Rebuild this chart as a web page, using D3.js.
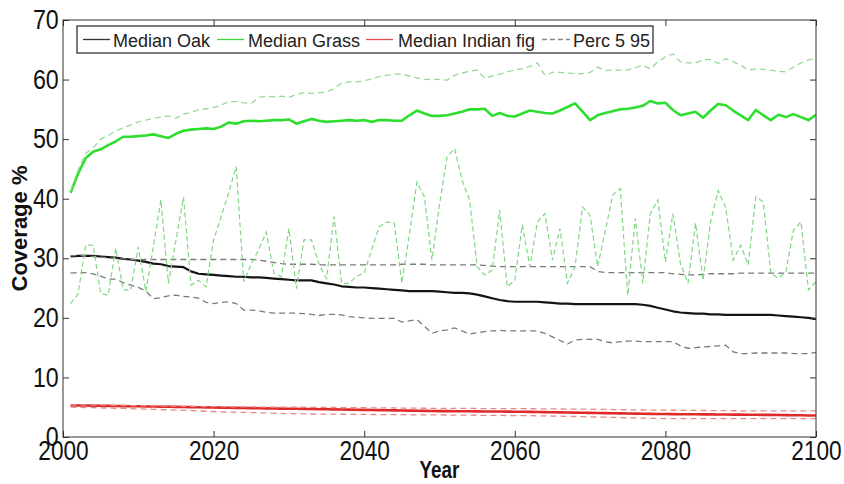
<!DOCTYPE html>
<html>
<head>
<meta charset="utf-8">
<script src="https://cdn.jsdelivr.net/npm/d3@7/dist/d3.min.js"></script>
<style>
  html, body { margin: 0; padding: 0; background: #fff; }
  svg { display: block; font-family: "Liberation Sans", Arial, sans-serif; }
</style>
</head>
<body>
<svg id="chart" width="844" height="484"></svg>
<script>
// Simulated yearly vegetation coverage (%), 2001-2100
const years = d3.range(2001, 2101);

const oakMedian = [
  30.3,30.4,30.4,30.4,30.3,30.2,30.1,29.9,29.8,29.6,
  29.4,29.1,29.0,28.7,28.6,28.5,27.8,27.4,27.3,27.2,
  27.1,27.0,26.9,26.9,26.8,26.8,26.7,26.6,26.5,26.4,
  26.3,26.3,26.3,26.0,25.8,25.6,25.3,25.2,25.1,25.1,
  25.0,24.9,24.8,24.7,24.6,24.5,24.5,24.5,24.5,24.4,
  24.3,24.2,24.2,24.1,23.9,23.6,23.3,23.0,22.8,22.7,
  22.7,22.7,22.7,22.6,22.5,22.4,22.4,22.3,22.3,22.3,
  22.3,22.3,22.3,22.3,22.3,22.3,22.2,22.0,21.7,21.4,
  21.1,20.9,20.8,20.7,20.7,20.6,20.6,20.5,20.5,20.5,
  20.5,20.5,20.5,20.5,20.4,20.3,20.2,20.1,20.0,19.8
];
const oakP95 = [
  30.4,30.5,30.4,30.3,30.2,30.1,30.0,29.9,29.8,29.8,
  29.8,29.8,29.8,29.8,29.8,29.8,29.8,29.8,29.8,29.8,
  29.8,29.8,29.8,29.8,29.8,29.7,29.5,29.3,29.1,29.0,
  29.0,29.0,29.0,28.9,28.9,28.9,28.9,28.9,28.9,28.9,
  28.9,28.9,28.9,28.9,29.0,29.0,29.0,29.0,28.9,28.9,
  28.9,28.9,28.9,28.9,28.9,28.8,28.7,28.6,28.6,28.6,
  28.6,28.6,28.6,28.6,28.6,28.6,28.6,28.6,28.6,28.6,
  27.8,27.6,27.6,27.6,27.6,27.6,27.6,27.6,27.6,27.6,
  27.4,27.3,27.2,27.2,27.3,27.4,27.4,27.4,27.4,27.5,
  27.5,27.5,27.5,27.5,27.5,27.5,27.5,27.5,27.5,27.5
];
const oakP5 = [
  27.5,27.6,27.6,27.4,27.0,26.5,26.5,25.9,25.5,25.1,
  24.5,23.2,23.4,23.7,23.8,23.6,23.5,23.3,22.6,22.4,
  22.6,22.7,22.4,21.3,21.3,21.2,20.9,20.8,20.8,20.8,
  20.8,20.7,20.6,20.4,20.6,20.6,20.5,20.2,20.1,20.0,
  19.9,19.9,19.9,19.9,19.3,19.5,19.7,18.6,17.4,17.8,
  18.0,18.3,17.8,17.3,17.5,17.7,17.8,17.9,17.8,17.8,
  17.8,17.8,17.8,17.4,16.8,16.2,15.6,16.3,16.4,16.4,
  16.4,16.0,15.8,16.0,16.1,16.1,16.0,16.0,16.0,16.0,
  16.0,15.3,14.9,15.0,15.1,15.2,15.3,15.4,14.3,14.0,
  14.0,14.1,14.1,14.1,14.1,14.1,14.0,14.0,14.0,14.2
];

const grassMedian = [
  41.0,44.2,46.8,47.9,48.3,49.0,49.6,50.4,50.4,50.5,
  50.6,50.8,50.5,50.2,50.9,51.4,51.6,51.7,51.8,51.7,
  52.1,52.8,52.6,53.0,53.1,53.0,53.1,53.2,53.2,53.3,
  52.6,53.0,53.4,53.1,52.9,53.0,53.1,53.2,53.1,53.2,
  52.9,53.2,53.2,53.1,53.1,54.0,54.8,54.3,53.9,53.9,
  54.0,54.3,54.6,55.0,55.0,55.1,53.9,54.4,53.9,53.8,
  54.3,54.8,54.6,54.4,54.3,54.8,55.4,56.0,54.6,53.2,
  54.0,54.4,54.7,55.0,55.1,55.3,55.6,56.4,56.0,56.1,
  54.9,54.0,54.3,54.6,53.6,54.8,55.9,55.7,54.8,54.0,
  53.2,54.9,54.0,53.2,54.1,53.7,54.2,53.7,53.2,54.1
];
const grassP95 = [
  41.3,44.8,47.6,48.5,50.0,50.6,51.4,51.9,52.4,52.9,
  53.2,53.5,53.7,53.9,53.5,54.2,54.5,54.9,55.1,55.3,
  55.7,56.3,56.3,56.1,56.0,57.0,57.2,57.1,57.2,57.0,
  57.5,57.8,57.7,57.8,57.9,58.5,59.4,59.6,59.6,59.8,
  60.1,60.5,60.7,60.9,60.9,60.6,60.3,60.0,60.1,60.0,
  59.9,60.7,61.1,61.4,61.6,60.2,60.6,60.9,61.3,61.6,
  61.8,62.2,62.8,60.7,61.2,61.2,61.1,61.0,61.0,61.2,
  62.1,61.5,61.6,61.6,61.6,62.0,62.4,61.8,63.0,63.8,
  64.3,63.0,62.8,62.8,63.3,63.4,62.7,63.5,63.0,62.4,
  61.6,61.8,61.7,61.6,61.4,61.3,62.1,62.8,63.3,63.5
];
const grassP5 = [
  22.4,24.0,32.2,32.2,24.1,23.8,31.7,24.7,24.7,31.9,
  24.4,32.0,39.8,25.8,33.0,40.3,25.5,26.3,25.2,33.1,
  37.0,41.0,45.4,26.1,29.0,31.5,34.4,27.5,26.9,35.0,
  24.9,33.1,33.1,29.0,26.6,37.0,25.8,25.8,27.0,27.5,
  31.5,35.3,36.1,35.9,25.8,34.0,42.8,40.3,29.7,39.0,
  47.0,48.4,43.1,39.8,28.6,27.2,28.0,38.1,25.2,26.3,
  35.6,28.6,36.1,37.5,29.7,35.0,25.8,28.6,38.6,37.2,
  28.6,34.5,40.6,41.7,23.8,36.7,25.8,37.5,39.8,29.4,
  37.5,29.1,25.8,35.9,26.3,36.1,41.4,38.6,29.7,32.2,
  28.9,40.3,39.5,27.5,26.6,27.7,34.7,36.1,24.7,26.1
];

const figMedian = [
  5.30,5.30,5.28,5.27,5.25,5.23,5.21,5.19,5.17,5.15,
  5.13,5.11,5.09,5.07,5.05,5.03,5.01,4.99,4.97,4.95,
  4.93,4.91,4.89,4.87,4.85,4.83,4.81,4.79,4.77,4.75,
  4.73,4.71,4.69,4.67,4.65,4.63,4.61,4.59,4.57,4.55,
  4.53,4.51,4.49,4.47,4.45,4.43,4.41,4.39,4.37,4.35,
  4.34,4.33,4.32,4.31,4.30,4.29,4.28,4.27,4.26,4.25,
  4.23,4.21,4.19,4.17,4.15,4.13,4.11,4.09,4.07,4.05,
  4.03,4.01,3.99,3.97,3.95,3.93,3.91,3.89,3.87,3.85,
  3.84,3.83,3.82,3.81,3.80,3.79,3.78,3.77,3.76,3.75,
  3.74,3.73,3.72,3.71,3.70,3.68,3.66,3.64,3.62,3.60
];
const figP95 = [
  5.40,5.40,5.38,5.36,5.35,5.33,5.31,5.30,5.28,5.26,
  5.25,5.23,5.21,5.20,5.18,5.16,5.15,5.13,5.11,5.10,
  5.09,5.08,5.07,5.06,5.05,5.04,5.03,5.02,5.01,5.00,
  5.00,4.99,4.98,4.97,4.96,4.95,4.94,4.93,4.92,4.91,
  4.90,4.89,4.88,4.87,4.86,4.85,4.84,4.83,4.82,4.81,
  4.80,4.80,4.79,4.79,4.78,4.78,4.77,4.77,4.76,4.76,
  4.75,4.74,4.73,4.72,4.71,4.70,4.69,4.68,4.67,4.66,
  4.65,4.63,4.61,4.59,4.57,4.55,4.53,4.51,4.50,4.50,
  4.49,4.48,4.47,4.46,4.45,4.44,4.43,4.42,4.41,4.40,
  4.40,4.40,4.40,4.40,4.40,4.40,4.40,4.40,4.40,4.40
];
const figP5 = [
  5.00,4.98,4.95,4.92,4.89,4.86,4.83,4.80,4.76,4.72,
  4.68,4.64,4.60,4.56,4.52,4.48,4.44,4.38,4.32,4.25,
  4.22,4.19,4.16,4.13,4.10,4.07,4.04,4.00,3.96,3.92,
  3.88,3.87,3.86,3.85,3.84,3.83,3.82,3.81,3.80,3.79,
  3.78,3.77,3.76,3.75,3.74,3.73,3.72,3.71,3.70,3.70,
  3.69,3.68,3.67,3.66,3.65,3.64,3.63,3.62,3.61,3.60,
  3.59,3.58,3.56,3.54,3.52,3.50,3.47,3.44,3.41,3.38,
  3.35,3.32,3.29,3.26,3.23,3.20,3.17,3.14,3.12,3.10,
  3.10,3.10,3.10,3.10,3.10,3.10,3.10,3.10,3.10,3.10,
  3.10,3.10,3.10,3.10,3.10,3.10,3.10,3.10,3.10,3.10
];

const xTicks = [2000, 2020, 2040, 2060, 2080, 2100];
const yTicks = [0, 10, 20, 30, 40, 50, 60, 70];
const legendLabels = ["Median Oak", "Median Grass", "Median Indian fig", "Perc 5 95"];

// Plot area
const plotL = 63, plotR = 816, plotT = 20, plotB = 437;

const svg = d3.select("#chart");

const x = d3.scaleLinear().domain([2000, 2100]).range([plotL, plotR]);
const y = d3.scaleLinear().domain([0, 70]).range([plotB, plotT]);

const line = d3.line()
  .x((d, i) => x(years[i]))
  .y(d => y(d));

const plot = svg.append("g");

// Solid medians
const medians = [
  { values: oakMedian,   color: "#141414", w: 2.2 },
  { values: figMedian,   color: "#e02a2a", w: 2.6 },
  { values: grassMedian, color: "#2ede2e", w: 2.6 }
];
// Dashed 5th / 95th percentile envelopes
const dashed = [
  { values: oakP95,   color: "#7a7a7a", dash: "6,4", w: 1.3 },
  { values: oakP5,    color: "#7a7a7a", dash: "6,4", w: 1.3 },
  { values: figP95,   color: "#e58a8a", dash: "6,4", w: 1.3 },
  { values: figP5,    color: "#e58a8a", dash: "6,4", w: 1.3 },
  { values: grassP95, color: "#93dc93", dash: "6,4", w: 1.3 },
  { values: grassP5,  color: "#82d682", dash: "5,3", w: 1.2 }
];

plot.selectAll("path.med")
  .data(medians)
  .join("path")
  .attr("class", "med")
  .attr("d", d => line(d.values))
  .attr("fill", "none")
  .attr("stroke", d => d.color)
  .attr("stroke-width", d => d.w)
  .attr("stroke-linejoin", "round");

plot.selectAll("path.pct")
  .data(dashed)
  .join("path")
  .attr("class", "pct")
  .attr("d", d => line(d.values))
  .attr("fill", "none")
  .attr("stroke", d => d.color)
  .attr("stroke-width", d => d.w)
  .attr("stroke-dasharray", d => d.dash);

// Axes with inward ticks on all four sides
const axisColor = "#333";
function styleAxis(g) {
  g.select(".domain").remove();
  g.selectAll(".tick line").attr("stroke", axisColor).attr("stroke-width", 1);
}

const xAxis = svg.append("g")
  .attr("transform", `translate(0,${plotB})`)
  .call(d3.axisBottom(x).tickValues(xTicks).tickFormat(d3.format("d"))
    .tickSizeInner(-6).tickSizeOuter(0).tickPadding(4))
  .call(styleAxis);
xAxis.selectAll(".tick text")
  .attr("fill", "#111")
  .attr("font-size", 27)
  .attr("dy", "0.72em")
  .attr("transform", "scale(0.84,1)");

const yAxis = svg.append("g")
  .attr("transform", `translate(${plotL},0)`)
  .call(d3.axisLeft(y).tickValues(yTicks).tickFormat(d3.format("d"))
    .tickSizeInner(-6).tickSizeOuter(0).tickPadding(5))
  .call(styleAxis);
yAxis.selectAll(".tick text")
  .attr("fill", "#111")
  .attr("font-size", 27)
  .attr("transform", "scale(0.86,1)");

svg.append("g")
  .attr("transform", `translate(0,${plotT})`)
  .call(d3.axisTop(x).tickValues(xTicks).tickFormat("")
    .tickSizeInner(-6).tickSizeOuter(0))
  .call(styleAxis);
svg.append("g")
  .attr("transform", `translate(${plotR},0)`)
  .call(d3.axisRight(y).tickValues(yTicks).tickFormat("")
    .tickSizeInner(-6).tickSizeOuter(0))
  .call(styleAxis);

// Frame
svg.append("rect")
  .attr("x", plotL).attr("y", plotT)
  .attr("width", plotR - plotL).attr("height", plotB - plotT)
  .attr("fill", "none").attr("stroke", axisColor).attr("stroke-width", 1);

// Axis titles
svg.append("text")
  .attr("transform", `translate(${(plotL + plotR) / 2},478) scale(0.82,1)`)
  .attr("text-anchor", "middle")
  .attr("font-size", 23).attr("font-weight", "bold").attr("fill", "#111")
  .text("Year");

svg.append("text")
  .attr("transform", `translate(27,${(plotT + plotB) / 2}) rotate(-90)`)
  .attr("text-anchor", "middle")
  .attr("font-size", 22).attr("font-weight", "bold").attr("fill", "#111")
  .text("Coverage %");

// Legend
const legend = svg.append("g");
legend.append("rect")
  .attr("x", 77).attr("y", 26).attr("width", 576).attr("height", 27)
  .attr("fill", "#fff").attr("stroke", "#222").attr("stroke-width", 1.2);

const legendItems = [
  { label: legendLabels[0], color: "#333",    dash: null,  x0: 83,  x1: 110, tx: 113 },
  { label: legendLabels[1], color: "#3ad83a", dash: null,  x0: 217, x1: 244, tx: 248 },
  { label: legendLabels[2], color: "#e05050", dash: null,  x0: 366, x1: 393, tx: 398 },
  { label: legendLabels[3], color: "#8a8a8a", dash: "5,3", x0: 542, x1: 570, tx: 573 }
];
const li = legend.selectAll("g.item").data(legendItems).join("g").attr("class", "item");
li.append("line")
  .attr("x1", d => d.x0).attr("x2", d => d.x1)
  .attr("y1", 39.5).attr("y2", 39.5)
  .attr("stroke", d => d.color).attr("stroke-width", 1.3)
  .attr("stroke-dasharray", d => d.dash);
li.append("text")
  .attr("x", d => d.tx).attr("y", 46.5)
  .attr("font-size", 18).attr("fill", "#222")
  .text(d => d.label);
</script>
</body>
</html>
